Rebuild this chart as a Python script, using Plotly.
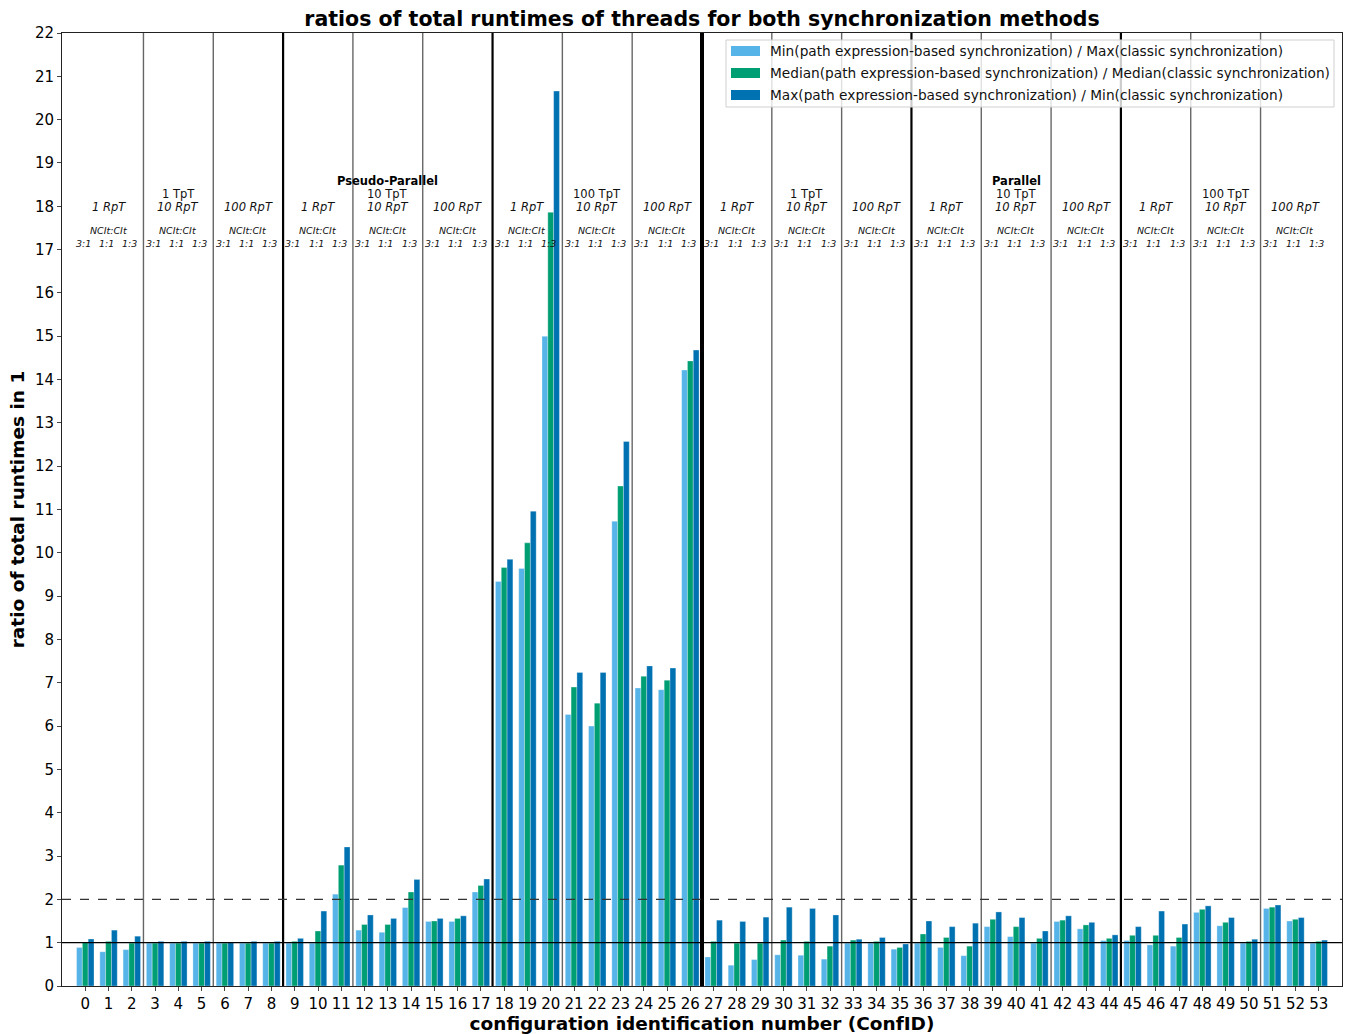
import plotly.graph_objects as go

# Configuration ids and the three runtime ratios per configuration
conf_ids = list(range(54))

min_over_max = [
    0.89, 0.79, 0.84, 0.99, 0.99, 0.99, 0.99, 0.99, 0.99,
    0.99, 0.99, 2.12, 1.29, 1.24, 1.81, 1.49, 1.49, 2.17,
    9.34, 9.64, 15.00, 6.27, 6.00, 10.73, 6.88, 6.84, 14.22,
    0.67, 0.48, 0.61, 0.72, 0.71, 0.62, 0.99, 0.99, 0.85,
    0.99, 0.89, 0.70, 1.37, 1.14, 0.99, 1.49, 1.32, 1.05,
    1.05, 0.95, 0.92, 1.70, 1.39, 0.99, 1.79, 1.50, 0.99,
]
median_over_median = [
    1.00, 1.03, 0.99, 0.99, 0.99, 0.99, 0.99, 0.99, 0.99,
    1.03, 1.27, 2.79, 1.42, 1.42, 2.17, 1.50, 1.56, 2.32,
    9.66, 10.23, 17.86, 6.90, 6.53, 11.54, 7.15, 7.06, 14.43,
    1.03, 0.99, 0.99, 1.06, 1.03, 0.92, 1.06, 1.03, 0.89,
    1.20, 1.12, 0.92, 1.54, 1.37, 1.10, 1.52, 1.41, 1.10,
    1.17, 1.17, 1.12, 1.77, 1.47, 1.03, 1.82, 1.54, 1.03,
]
max_over_min = [
    1.085, 1.29, 1.15, 1.03, 1.03, 1.03, 1.00, 1.03, 1.03,
    1.10, 1.73, 3.21, 1.64, 1.56, 2.46, 1.56, 1.62, 2.47,
    9.85, 10.96, 20.66, 7.24, 7.24, 12.57, 7.39, 7.34, 14.68,
    1.52, 1.49, 1.59, 1.82, 1.79, 1.64, 1.08, 1.12, 0.97,
    1.50, 1.37, 1.45, 1.71, 1.58, 1.27, 1.62, 1.47, 1.18,
    1.37, 1.73, 1.43, 1.85, 1.58, 1.08, 1.87, 1.58, 1.06,
]

series_names = [
    "Min(path expression-based synchronization) / Max(classic synchronization)",
    "Median(path expression-based synchronization) / Median(classic synchronization)",
    "Max(path expression-based synchronization) / Min(classic synchronization)",
]
series_colors = ["#56B4E9", "#009E73", "#0072B2"]

# Group labels (one group = three consecutive configurations)
rpt_labels = ["1 RpT", "10 RpT", "100 RpT"] * 6
tpt_labels = {1: "1 TpT", 4: "10 TpT", 7: "100 TpT", 10: "1 TpT", 13: "10 TpT", 16: "100 TpT"}
mode_labels = {4: "Pseudo-Parallel", 13: "Parallel"}
ratio_labels = ["3:1", "1:1", "1:3"]

FONT = "DejaVu Sans"
W, H = 1346, 1034
ML, MR, MT, MB = 62, 4, 33, 48
PW, PH = W - ML - MR, H - MT - MB


def px_x(px):
    return (px - ML) / PW


def px_y(py):
    return (H - MB - py) / PH


fig = go.Figure()
for name, vals, col in zip(series_names, [min_over_max, median_over_median, max_over_min], series_colors):
    fig.add_trace(go.Bar(
        x=conf_ids, y=vals, name=name, showlegend=False,
        marker=dict(color=col, line=dict(color="rgba(255,255,255,0.6)", width=0.5)),
    ))

shapes = []
# separators between groups of configurations
for g in range(1, 18):
    xpos = g * 3 - 0.5
    if g == 9:
        lw, col = 4, "black"
    elif g % 3 == 0:
        lw, col = 2.2, "black"
    else:
        lw, col = 1.4, "rgba(0,0,0,0.6)"
    shapes.append(dict(type="line", xref="x", yref="y", x0=xpos, x1=xpos, y0=0, y1=22,
                       line=dict(color=col, width=lw), layer="below"))
# reference lines at ratio 1 and 2
shapes.append(dict(type="line", xref="paper", yref="y", x0=0, x1=1, y0=1, y1=1,
                   line=dict(color="black", width=1.2), layer="above"))
shapes.append(dict(type="line", xref="paper", yref="y", x0=0, x1=1, y0=2, y1=2,
                   line=dict(color="#333", width=1.2, dash="dash"), layer="above"))

annotations = []
for g in range(18):
    cx = g * 3 + 1
    annotations.append(dict(x=cx, y=17.98, xref="x", yref="y", text=f"<i>{rpt_labels[g]}</i>",
                            showarrow=False, font=dict(family=FONT, size=11.5, color="#111")))
    annotations.append(dict(x=cx, y=17.45, xref="x", yref="y", text="<i>NCIt:CIt</i>",
                            showarrow=False, font=dict(family=FONT, size=9.5, color="#111")))
    for k in range(3):
        annotations.append(dict(x=g * 3 + k - 0.08, y=17.15, xref="x", yref="y",
                                text=f"<i>{ratio_labels[k]}</i>", showarrow=False,
                                font=dict(family=FONT, size=9.5, color="#111")))
    if g in tpt_labels:
        annotations.append(dict(x=cx, y=18.28, xref="x", yref="y", text=tpt_labels[g],
                                showarrow=False, font=dict(family=FONT, size=11.5, color="#111")))
    if g in mode_labels:
        annotations.append(dict(x=cx, y=18.58, xref="x", yref="y", text=f"<b>{mode_labels[g]}</b>",
                                showarrow=False, font=dict(family=FONT, size=11.5, color="black")))

# legend box in the upper right corner of the plot area
shapes.append(dict(type="rect", xref="paper", yref="paper",
                   x0=px_x(726), x1=px_x(1334), y0=px_y(107), y1=px_y(40),
                   fillcolor="rgba(255,255,255,0.8)", line=dict(color="#d0d0d0", width=1),
                   layer="above"))
for i, (name, col) in enumerate(zip(series_names, series_colors)):
    cy = 51 + 22 * i
    shapes.append(dict(type="rect", xref="paper", yref="paper",
                       x0=px_x(731), x1=px_x(760), y0=px_y(cy + 5), y1=px_y(cy - 5),
                       fillcolor=col, line=dict(width=0), layer="above"))
    annotations.append(dict(x=px_x(768), y=px_y(cy), xref="paper", yref="paper",
                            xanchor="left", yanchor="middle", text=name, showarrow=False,
                            font=dict(family=FONT, size=13.7, color="#111")))

fig.update_layout(
    width=W, height=H,
    margin=dict(l=ML, r=MR, t=MT, b=MB),
    paper_bgcolor="white", plot_bgcolor="white",
    font=dict(family=FONT, color="black"),
    barmode="group", bargap=0.25, bargroupgap=0,
    title=dict(text="<b>ratios of total runtimes of threads for both synchronization methods</b>",
               x=0.5, xref="paper", xanchor="center", y=0.9815, yanchor="middle",
               font=dict(family=FONT, size=20.5, color="black")),
    xaxis=dict(range=[-1, 54], tickmode="array", tickvals=conf_ids,
               ticktext=[str(c) for c in conf_ids], ticks="outside", ticklen=4,
               tickfont=dict(size=15), showgrid=False, zeroline=False,
               showline=True, linecolor="#222", linewidth=1, mirror=True,
               title=dict(text="<b>configuration identification number (ConfID)</b>",
                          font=dict(size=18.5), standoff=3)),
    yaxis=dict(range=[0, 22], tickmode="linear", tick0=0, dtick=1, ticks="outside", ticklen=4,
               tickfont=dict(size=15), showgrid=False, zeroline=False,
               showline=True, linecolor="#222", linewidth=1, mirror=True,
               title=dict(text="<b>ratio of total runtimes in 1</b>", font=dict(size=18.5), standoff=5)),
    shapes=shapes,
    annotations=annotations,
)

fig.write_html("out.html")
